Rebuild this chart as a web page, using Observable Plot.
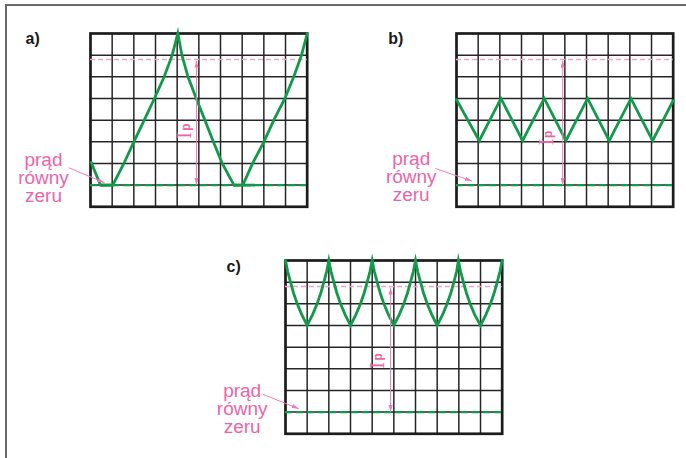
<!DOCTYPE html>
<html><head><meta charset="utf-8">
<script src="https://cdn.jsdelivr.net/npm/d3@7"></script>
<script src="https://cdn.jsdelivr.net/npm/@observablehq/plot@0.6"></script>
<style>
html,body{margin:0;padding:0;background:#fff;}
#root{position:relative;width:686px;height:458px;overflow:hidden;background:#fff;font-family:"Liberation Sans",Arial,sans-serif;}
#frame{position:absolute;left:5px;top:4px;width:700px;height:470px;border-top:2px solid #6a6a6a;border-left:2px solid #6a6a6a;}
</style></head><body><div id="root"><div id="frame"></div></div>
<script>
// ---- data ----
const gridX = [1, 2, 3, 4, 5, 6, 7, 8, 9];
const gridY = [1, 2, 3, 4, 5, 6, 7];
const zeroLevel = 1;      // "prąd równy zeru" level (grid units)
const ipLevel = 6.8;      // peak-current level (pink dashed)
const zeroLabel = "prąd\nrówny\nzeru";
const ipMain = "I";
const ipSub = "p";
const panelLabels = ["a)", "b)", "c)"];

// a) discontinuous current
const waveAx = [0.03, 0.46, 1.03, 1.54, 2.0, 2.48, 2.95, 3.4, 3.77, 4.03, 4.22, 4.5, 4.88, 5.28, 5.67, 6.08, 6.62, 7.03, 7.48, 8.0, 8.46, 8.97, 9.38, 9.74, 10];
const waveAy = [2.05, 1, 1, 2, 3, 4, 5, 6, 7, 8, 7, 6, 5, 4, 3, 2, 1, 1, 2, 3, 4, 5, 6, 7, 8];
const flatsA = [[0.46, 1.08], [6.62, 7.62]];

// b) continuous current, small ripple
const waveBx = [0, 1.05, 2.05, 3.05, 4.05, 5.05, 6.05, 7.05, 8.05, 9.05, 10];
const waveBy = [4.95, 3.05, 5, 3.05, 5, 3.05, 5, 3.05, 5, 3.05, 4.9];

// c) continuous current near peak
const waveCx = [0, 0.1, 0.23, 0.37, 0.54, 0.75, 1, 1.25, 1.46, 1.63, 1.77, 1.9, 2,
  2.1, 2.23, 2.37, 2.54, 2.75, 3, 3.25, 3.46, 3.63, 3.77, 3.9, 4,
  4.1, 4.23, 4.37, 4.54, 4.75, 5, 5.25, 5.46, 5.63, 5.77, 5.9, 6,
  6.1, 6.23, 6.37, 6.54, 6.75, 7, 7.25, 7.46, 7.63, 7.77, 7.9, 7.98,
  8.08, 8.21, 8.35, 8.52, 8.73, 9, 9.25, 9.46, 9.63, 9.77, 9.9, 10];
const waveCy = [8, 7.5, 7, 6.5, 6, 5.5, 5, 5.5, 6, 6.5, 7, 7.5, 8,
  7.5, 7, 6.5, 6, 5.5, 5, 5.5, 6, 6.5, 7, 7.5, 8,
  7.5, 7, 6.5, 6, 5.5, 5, 5.5, 6, 6.5, 7, 7.5, 8,
  7.5, 7, 6.5, 6, 5.5, 5, 5.5, 6, 6.5, 7, 7.5, 8,
  7.5, 7, 6.5, 6, 5.5, 5, 5.5, 6, 6.5, 7, 7.5, 8];

// ---- layout / styles ----
const GREEN = "#119a4a";
const PINK = "#ee64a6";
const PINK_LINE = "#ef7cb3";
const PINK_DASH = "#f2a2c9";
const GW = 216.7, GH = 173.3;
const mL = 85, mT = 30, mR = 10, mB = 10;

const panels = [
  {left: 90, top: 33.3, label: panelLabels[0], lab: [-3.0, 7.73], txt: [-2.17, 1.3],
   ptr: [-1.0, 1.8, 0.65, 1.11], iPos: [4.32, 3.3], pPos: [4.4, 3.68], arrowX: 4.89,
   wx: waveAx, wy: waveAy, flats: flatsA},
  {left: 456.3, top: 33.3, label: panelLabels[1], lab: [-3.15, 7.77], txt: [-2.09, 1.38],
   ptr: [-0.98, 1.77, 0.71, 1.19], iPos: [4.15, 3.0], pPos: [4.24, 3.35], arrowX: 4.9,
   wx: waveBx, wy: waveBy, flats: []},
  {left: 285, top: 259.7, label: panelLabels[2], lab: [-2.72, 7.7], txt: [-2.0, 1.12],
   ptr: [-1.03, 1.82, 0.61, 1.16], iPos: [4.23, 3.16], pPos: [4.28, 3.55], arrowX: 4.85,
   wx: waveCx, wy: waveCy, flats: []}
];

function head(color) {
  const m = d3.create("svg:marker")
    .attr("viewBox", "-5 -5 10 10")
    .attr("markerWidth", 7).attr("markerHeight", 7)
    .attr("refX", 5).attr("orient", "auto-start-reverse")
    .attr("fill", color).attr("stroke", "none");
  m.append("path").attr("d", "M5,0L-5,-3L-5,3Z");
  return m.node();
}

const root = document.getElementById("root");
for (const cfg of panels) {
  const pts = cfg.wx.map((x, i) => [x, cfg.wy[i]]);
  const svg = Plot.plot({
    width: mL + GW + mR,
    height: mT + GH + mB,
    marginLeft: mL, marginTop: mT, marginRight: mR, marginBottom: mB,
    x: {domain: [0, 10], axis: null},
    y: {domain: [0, 8], axis: null},
    style: {background: "transparent", overflow: "visible"},
    marks: [
      Plot.ruleX(gridX, {stroke: "#262626", strokeWidth: 1.5}),
      Plot.ruleY(gridY, {stroke: "#262626", strokeWidth: 1.5}),
      Plot.frame({stroke: "#1c1c1c", strokeWidth: 2.7}),
      Plot.ruleY([ipLevel], {stroke: PINK_DASH, strokeWidth: 1.3, strokeDasharray: "5,3"}),
      Plot.ruleY([zeroLevel], {stroke: GREEN, strokeWidth: 2.2, strokeDasharray: "7,4"}),
      Plot.line(pts, {stroke: GREEN, strokeWidth: 2.8, strokeLinejoin: "miter", strokeMiterlimit: 8}),
      Plot.ruleY(cfg.flats, {y: () => zeroLevel, x1: d => d[0], x2: d => d[1], stroke: GREEN, strokeWidth: 2.8}),
      Plot.link([cfg], {x1: d => d.arrowX, x2: d => d.arrowX, y1: () => zeroLevel, y2: () => ipLevel - 0.05,
        stroke: PINK_LINE, strokeWidth: 1, markerStart: head, markerEnd: head}),
      Plot.link([cfg], {x1: d => d.ptr[0], y1: d => d.ptr[1], x2: d => d.ptr[2], y2: d => d.ptr[3],
        stroke: PINK_LINE, strokeWidth: 1, markerEnd: head}),
      Plot.text([cfg], {x: d => d.lab[0], y: d => d.lab[1], text: d => d.label, textAnchor: "start",
        fontFamily: "Liberation Sans, Arial, sans-serif", fontWeight: "bold", fontSize: 16, fill: "#1a1a1a"}),
      Plot.text([cfg], {x: d => d.txt[0], y: d => d.txt[1], text: () => zeroLabel, lineHeight: 0.95,
        fontFamily: "Liberation Sans, Arial, sans-serif", fontSize: 19, fill: PINK}),
      Plot.text([cfg], {x: d => d.iPos[0], y: d => d.iPos[1], text: () => ipMain, rotate: -90,
        fontFamily: "Liberation Serif, serif", fontSize: 20, fill: PINK}),
      Plot.text([cfg], {x: d => d.pPos[0], y: d => d.pPos[1], text: () => ipSub, rotate: -90,
        fontFamily: "Liberation Sans, Arial, sans-serif", fontSize: 12, fontWeight: "bold", fill: PINK})
    ]
  });
  svg.style.position = "absolute";
  svg.style.left = (cfg.left - mL) + "px";
  svg.style.top = (cfg.top - mT) + "px";
  svg.style.maxWidth = "none";
  root.appendChild(svg);
}
</script></body></html>
